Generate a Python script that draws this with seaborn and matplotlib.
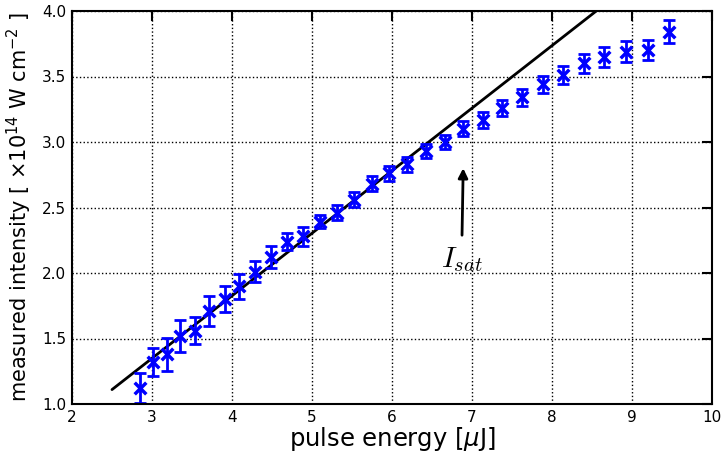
import matplotlib
matplotlib.use('Agg')
import matplotlib.pyplot as plt
import seaborn as sns
import pandas as pd

# measured points
energy = [2.85, 3.01, 3.19, 3.35, 3.54, 3.71, 3.91, 4.09, 4.29, 4.49,
          4.69, 4.89, 5.10, 5.31, 5.53, 5.75, 5.96, 6.19, 6.43, 6.66,
          6.89, 7.14, 7.38, 7.63, 7.89, 8.14, 8.40, 8.65, 8.93, 9.20, 9.46]
intensity = [1.12, 1.32, 1.38, 1.52, 1.56, 1.71, 1.80, 1.90, 2.01, 2.12,
             2.24, 2.28, 2.39, 2.46, 2.56, 2.68, 2.76, 2.83, 2.93, 3.00,
             3.10, 3.17, 3.26, 3.34, 3.44, 3.51, 3.60, 3.65, 3.69, 3.70, 3.84]
err = [0.115, 0.11, 0.125, 0.12, 0.105, 0.115, 0.097, 0.095, 0.078, 0.083,
       0.064, 0.073, 0.05, 0.057, 0.057, 0.057, 0.058, 0.056, 0.055, 0.057,
       0.057, 0.06, 0.058, 0.064, 0.066, 0.069, 0.073, 0.076, 0.079, 0.076, 0.088]

# linear fit
fit_energy = [2.5, 8.7]
fit_intensity = [1.11, 4.07]

df = pd.DataFrame({'energy': energy, 'intensity': intensity, 'err': err})
fit = pd.DataFrame({'energy': fit_energy, 'intensity': fit_intensity})

sns.set_style('white')
plt.rcParams['font.family'] = ['DejaVu Sans']
plt.rcParams['text.color'] = 'black'
plt.rcParams['axes.labelcolor'] = 'black'
plt.rcParams['xtick.color'] = 'black'
plt.rcParams['ytick.color'] = 'black'

fig = plt.figure(figsize=(7.22, 4.53), dpi=100)
ax = fig.add_axes([72/722, 1-404/453, 640/722, 393/453])

sns.lineplot(data=fit, x='energy', y='intensity', color='black', lw=2, ax=ax)
ax.errorbar(df['energy'], df['intensity'], yerr=df['err'], fmt='none',
            ecolor='blue', elinewidth=2, capsize=4, capthick=2)
sns.scatterplot(data=df, x='energy', y='intensity', marker='x', color='blue',
                s=70, linewidth=2.5, ax=ax, zorder=3)

ax.annotate('$I_{sat}$', xy=(6.89, 2.8), xytext=(6.87, 2.1),
            fontsize=21, ha='center', va='center', math_fontfamily='cm',
            arrowprops=dict(arrowstyle='-|>', color='black', lw=2,
                            shrinkA=5, shrinkB=0, mutation_scale=14))

ax.set_xlim(2, 10)
ax.set_ylim(1.0, 4.0)
ax.set_xticks(range(2, 11))
ax.set_yticks([1.0, 1.5, 2.0, 2.5, 3.0, 3.5, 4.0])
ax.set_yticklabels(['1.0', '1.5', '2.0', '2.5', '3.0', '3.5', '4.0'])
ax.grid(True, color='black', linestyle=':', linewidth=1)
ax.tick_params(direction='in', length=7, width=1.5, top=True, right=True,
               labelsize=11, pad=4)
for s in ax.spines.values():
    s.set_linewidth(1.5)
    s.set_color('black')

ax.set_xlabel(r'pulse energy [$\mu$J]', fontsize=17.5, labelpad=0)
ax.set_ylabel(r'measured intensity [ $\times10^{14}$ W cm$^{-2}$ ]', fontsize=15, labelpad=6)

fig.savefig('out.png', dpi=100)
